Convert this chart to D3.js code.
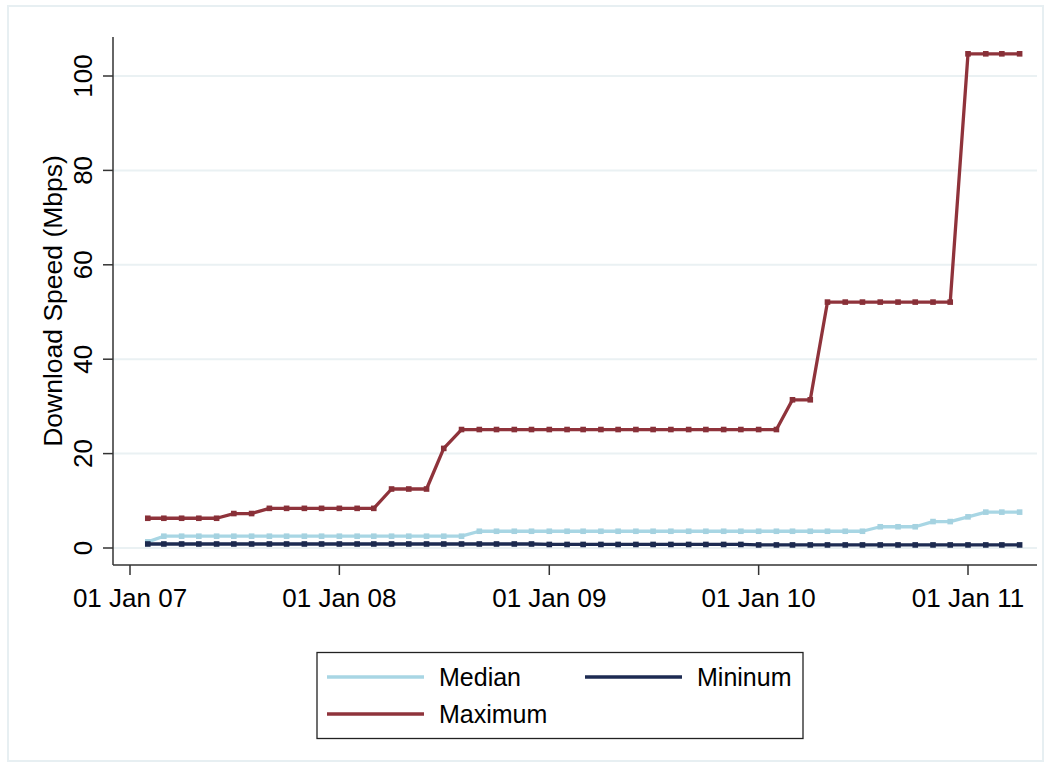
<!DOCTYPE html>
<html>
<head>
<meta charset="utf-8">
<script src="https://cdn.jsdelivr.net/npm/d3@7"></script>
<style>
html,body{margin:0;padding:0;background:#fff;}
svg{display:block;font-family:"Liberation Sans",Arial,Helvetica,sans-serif;}
</style>
</head>
<body>
<svg id="chart" width="1051" height="767"></svg>
<script>
// ---- data ----
const months = [
  "2007-02","2007-03","2007-04","2007-05","2007-06","2007-07","2007-08","2007-09","2007-10","2007-11","2007-12",
  "2008-01","2008-02","2008-03","2008-04","2008-05","2008-06","2008-07","2008-08","2008-09","2008-10","2008-11","2008-12",
  "2009-01","2009-02","2009-03","2009-04","2009-05","2009-06","2009-07","2009-08","2009-09","2009-10","2009-11","2009-12",
  "2010-01","2010-02","2010-03","2010-04","2010-05","2010-06","2010-07","2010-08","2010-09","2010-10","2010-11","2010-12",
  "2011-01","2011-02","2011-03","2011-04"
];
const medianVals = [
  1.3,2.5,2.5,2.5,2.5,2.5,2.5,2.5,2.5,2.5,2.5,
  2.5,2.5,2.5,2.5,2.5,2.5,2.5,2.5,3.55,3.55,3.55,3.55,
  3.55,3.55,3.55,3.55,3.55,3.55,3.55,3.55,3.55,3.55,3.55,3.55,
  3.55,3.55,3.55,3.55,3.55,3.55,3.55,4.5,4.5,4.5,5.6,5.6,
  6.6,7.6,7.6,7.6
];
const minimumVals = [
  0.85,0.85,0.85,0.85,0.85,0.85,0.85,0.85,0.85,0.85,0.85,
  0.85,0.85,0.85,0.85,0.85,0.85,0.85,0.85,0.85,0.85,0.85,0.85,
  0.75,0.75,0.75,0.75,0.75,0.75,0.75,0.75,0.75,0.75,0.75,0.75,
  0.65,0.65,0.65,0.65,0.65,0.65,0.65,0.65,0.65,0.65,0.65,0.65,
  0.65,0.65,0.65,0.65
];
const maximumVals = [
  6.3,6.3,6.3,6.3,6.3,7.3,7.3,8.4,8.4,8.4,8.4,
  8.4,8.4,8.4,12.5,12.5,12.5,21.1,25.1,25.1,25.1,25.1,25.1,
  25.1,25.1,25.1,25.1,25.1,25.1,25.1,25.1,25.1,25.1,25.1,25.1,
  25.1,25.1,31.4,31.4,52.1,52.1,52.1,52.1,52.1,52.1,52.1,52.1,
  104.7,104.7,104.7,104.7
];
const xTickDates = ["2007-01-01","2008-01-01","2009-01-01","2010-01-01","2011-01-01"];
const xTickLabels = ["01 Jan 07","01 Jan 08","01 Jan 09","01 Jan 10","01 Jan 11"];
const yTicks = [0,20,40,60,80,100];
const seriesNames = ["Median","Mininum","Maximum"];
const seriesColors = ["#a8d6e4","#1d2b52","#8f333b"];

// ---- layout ----
const svg = d3.select("#chart");
const parseM = d3.timeParse("%Y-%m");
const parseD = d3.timeParse("%Y-%m-%d");
const dates = months.map(parseM);

const x = d3.scaleTime()
  .domain([parseD("2007-01-01"), parseD("2011-01-01")])
  .range([130, 968]);
const y = d3.scaleLinear().domain([0, 100]).range([548, 76]);

const axisLeft = 113, axisRight = 1037, axisTop = 37, axisBottom = 565;

// outer frame
svg.append("rect").attr("x", 8).attr("y", 6).attr("width", 1035).attr("height", 755)
  .attr("fill", "#fff").attr("stroke", "#e7eff2").attr("stroke-width", 2);

// gridlines
svg.append("g").selectAll("line").data(yTicks).join("line")
  .attr("x1", axisLeft).attr("x2", axisRight)
  .attr("y1", d => y(d)).attr("y2", d => y(d))
  .attr("stroke", "#eaf1f3").attr("stroke-width", 2);

// y axis
svg.append("line").attr("x1", axisLeft).attr("x2", axisLeft)
  .attr("y1", axisTop).attr("y2", axisBottom).attr("stroke", "#333").attr("stroke-width", 1.5);
svg.append("g").selectAll("line").data(yTicks).join("line")
  .attr("x1", axisLeft - 10).attr("x2", axisLeft)
  .attr("y1", d => y(d)).attr("y2", d => y(d))
  .attr("stroke", "#333").attr("stroke-width", 1.5);
svg.append("g").selectAll("text").data(yTicks).join("text")
  .attr("transform", d => `translate(92,${y(d)}) rotate(-90)`)
  .attr("text-anchor", "middle")
  .attr("font-size", 26)
  .attr("fill", "#000")
  .text(d => d);
svg.append("text")
  .attr("transform", `translate(62,${(axisTop + axisBottom) / 2}) rotate(-90)`)
  .attr("text-anchor", "middle")
  .attr("font-size", 26.5)
  .attr("fill", "#000")
  .text("Download Speed (Mbps)");

// x axis
svg.append("line").attr("x1", axisLeft).attr("x2", axisRight)
  .attr("y1", axisBottom).attr("y2", axisBottom).attr("stroke", "#333").attr("stroke-width", 1.5);
svg.append("g").selectAll("line").data(xTickDates).join("line")
  .attr("x1", d => x(parseD(d))).attr("x2", d => x(parseD(d)))
  .attr("y1", axisBottom).attr("y2", axisBottom + 10)
  .attr("stroke", "#333").attr("stroke-width", 1.5);
svg.append("g").selectAll("text").data(xTickDates).join("text")
  .attr("x", d => x(parseD(d))).attr("y", 607)
  .attr("text-anchor", "middle")
  .attr("font-size", 26)
  .attr("fill", "#000")
  .text((d, i) => xTickLabels[i]);

// series
const allSeries = [medianVals, minimumVals, maximumVals];
const line = d3.line().x(d => x(d.date)).y(d => y(d.v));
allSeries.forEach((vals, si) => {
  const pts = vals.map((v, i) => ({date: dates[i], v}));
  const g = svg.append("g");
  g.append("path").datum(pts).attr("d", line)
    .attr("fill", "none").attr("stroke", seriesColors[si]).attr("stroke-width", 3.3)
    .attr("stroke-linejoin", "round");
  g.selectAll("rect").data(pts).join("rect")
    .attr("x", d => x(d.date) - 2.8).attr("y", d => y(d.v) - 2.8)
    .attr("width", 5.6).attr("height", 5.6)
    .attr("fill", d3.color(seriesColors[si]).darker(si === 0 ? 0.05 : 0.15));
});

// legend
const lg = svg.append("g");
lg.append("rect").attr("x", 317).attr("y", 652.5).attr("width", 486).attr("height", 86)
  .attr("fill", "#fff").attr("stroke", "#222").attr("stroke-width", 1.3);
const legendItems = [
  {name: seriesNames[0], color: seriesColors[0], lx: 327, ty: 677},
  {name: seriesNames[1], color: seriesColors[1], lx: 585, ty: 677},
  {name: seriesNames[2], color: seriesColors[2], lx: 327, ty: 714}
];
legendItems.forEach(it => {
  lg.append("line").attr("x1", it.lx).attr("x2", it.lx + 97)
    .attr("y1", it.ty).attr("y2", it.ty)
    .attr("stroke", it.color).attr("stroke-width", 3.3);
  lg.append("text").attr("x", it.lx + 112).attr("y", it.ty + 9)
    .attr("font-size", 25).attr("fill", "#000").text(it.name);
});
</script>
</body>
</html>
